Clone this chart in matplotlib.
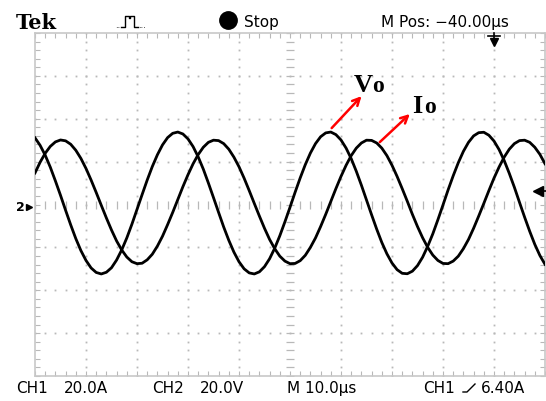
import numpy as np
import matplotlib.pyplot as plt
from matplotlib.lines import Line2D

W, H = 546, 401  # output size in pixels

# time base: 10 us/div, 10 divisions
t_us = list(range(0, 101))

# CH2 output voltage (V)
vo_V = [31.1, 27.6, 23.0, 17.4, 11.0, 4.3, -2.7, -9.5, -15.9, -21.5,
        -26.1, -29.6, -31.7, -32.4, -31.6, -29.5, -25.9, -21.2, -15.6, -9.2,
        -2.3, 4.6, 11.4, 17.7, 23.2, 27.8, 31.2, 33.2, 33.8, 32.9,
        30.6, 27.0, 22.2, 16.5, 10.0, 3.2, -3.7, -10.5, -16.7, -22.2,
        -26.7, -30.0, -31.9, -32.4, -31.4, -29.0, -25.3, -20.4, -14.6, -8.1,
        -1.3, 5.7, 12.4, 18.6, 24.0, 28.4, 31.6, 33.4, 33.8, 32.6,
        30.1, 26.3, 21.4, 15.5, 9.0, 2.1, -4.8, -11.5, -17.7, -23.0,
        -27.3, -30.4, -32.1, -32.3, -31.1, -28.5, -24.6, -19.5, -13.7, -7.1,
        -0.2, 6.8, 13.4, 19.5, 24.8, 29.0, 32.0, 33.5, 33.7, 32.3,
        29.6, 25.6, 20.5, 14.5, 8.0, 1.0, -5.9, -12.5, -18.6, -23.8,
        -27.9]

# CH1 output current (A)
io_A = [14.7, 19.7, 23.9, 27.1, 29.2, 30.1, 29.7, 28.1, 25.3, 21.5,
        16.8, 11.4, 5.6, -0.4, -6.3, -11.9, -17.0, -21.2, -24.5, -26.7,
        -27.6, -27.4, -25.8, -23.2, -19.4, -14.8, -9.4, -3.7, 2.3, 8.3,
        13.9, 19.0, 23.3, 26.7, 29.0, 30.0, 29.8, 28.4, 25.8, 22.1,
        17.6, 12.3, 6.5, 0.5, -5.4, -11.1, -16.3, -20.6, -24.1, -26.4,
        -27.6, -27.5, -26.2, -23.7, -20.0, -15.6, -10.3, -4.6, 1.4, 7.4,
        13.1, 18.3, 22.8, 26.3, 28.7, 30.0, 29.9, 28.7, 26.3, 22.8,
        18.3, 13.1, 7.4, 1.5, -4.6, -10.3, -15.5, -20.0, -23.6, -26.1,
        -27.5, -27.6, -26.4, -24.1, -20.6, -16.3, -11.1, -5.4, 0.5, 6.5,
        12.3, 17.5, 22.1, 25.8, 28.4, 29.8, 30.0, 29.0, 26.7, 23.4,
        19.0]

trig_level = 6.4    # A
trig_time = 90.0    # us

header = ["Stop", "M Pos: \u221240.00\u00b5s"]
footer = ["CH1", "20.0A", "CH2", "20.0V", "M 10.0\u00b5s", "CH1", "6.40A"]


def fx(px):
    return px / W


def fy(py):
    return 1 - py / H


fig = plt.figure(figsize=(W / 100, H / 100), dpi=100)
fig.patch.set_facecolor('white')
ax = fig.add_axes([fx(35), fy(376), 510 / W, 343 / H])
ax.set_xlim(0, 100)
ax.set_ylim(-80, 80)

grid_col = '#b8b8b8'
for s in ax.spines.values():
    s.set_color('#c8c8c8')
    s.set_linewidth(1.2)
ax.set_xticks(np.arange(0, 101, 2))
ax.set_yticks(np.arange(-80, 81, 4))
ax.tick_params(direction='in', length=3.5, width=0.8, color=grid_col,
               top=True, right=True, labelbottom=False, labelleft=False)

# dotted graticule
ys = np.arange(-80, 81, 4)
xs = np.arange(0, 101, 2)
for gx in range(10, 100, 10):
    if gx == 50:
        ax.plot([gx] * len(ys), ys, '_', ms=6, mew=0.9, color=grid_col)
    else:
        ax.plot([gx] * len(ys), ys, 's', ms=1.3, mew=0, color=grid_col)
for gy in range(-60, 61, 20):
    if gy == 0:
        ax.plot(xs, [gy] * len(xs), '|', ms=6, mew=0.9, color=grid_col)
    else:
        ax.plot(xs, [gy] * len(xs), 's', ms=1.3, mew=0, color=grid_col)

ax.plot(t_us, vo_V, color='black', lw=2.0, zorder=5)
ax.plot(t_us, io_A, color='black', lw=2.0, zorder=5)

# red pointers
ax.annotate('', xy=(64.4, 51.5), xytext=(57.8, 34.7),
            arrowprops=dict(arrowstyle='->', color='red', lw=1.8, mutation_scale=13))
ax.annotate('', xy=(73.9, 43.1), xytext=(67.2, 28.2),
            arrowprops=dict(arrowstyle='->', color='red', lw=1.8, mutation_scale=13))
serif = 'Liberation Serif'
fig.text(fx(354), fy(92), 'V', fontsize=19, fontweight='bold', family=serif, va='baseline')
fig.text(fx(372), fy(92), 'o', fontsize=17, fontweight='bold', family=serif, va='baseline')
fig.text(fx(412), fy(113), 'I', fontsize=19, fontweight='bold', family=serif, va='baseline')
fig.text(fx(424), fy(113), 'o', fontsize=17, fontweight='bold', family=serif, va='baseline')

# header
sans = 'DejaVu Sans'
fig.text(fx(16), fy(29), 'Tek', fontsize=15, fontweight='bold', family='DejaVu Serif',
         va='baseline')
pulse = [(121, 27), (125, 27), (125, 16), (129, 16), (129, 18), (130, 18), (130, 16),
         (134, 16), (134, 27), (138, 27)]
fig.add_artist(Line2D([fx(p[0]) for p in pulse], [fy(p[1]) for p in pulse],
                      color='black', lw=1.0))
fig.text(fx(115), fy(28), '..', fontsize=6, family=sans, va='baseline')
fig.text(fx(138), fy(28), '...', fontsize=6, family=sans, va='baseline')
fig.add_artist(Line2D([fx(228)], [fy(20)], marker='o', ms=12.5, color='black'))
fig.text(fx(244), fy(27), header[0], fontsize=11, family=sans, va='baseline')
fig.text(fx(381), fy(27), header[1], fontsize=11, family=sans, va='baseline')

# footer
fpos = [16, 64, 152, 200, 287, 423, 481]
for px, s in zip(fpos, footer):
    fig.text(fx(px), fy(393), s, fontsize=11, family=sans, va='baseline')
edge = [(463, 392), (467, 392), (475, 384)]
fig.add_artist(Line2D([fx(p[0]) for p in edge], [fy(p[1]) for p in edge],
                      color='black', lw=1.0))

# trigger position marker (top)
tx = fx(35 + trig_time * 5.1)
fig.add_artist(Line2D([tx - fx(6), tx + fx(6)], [fy(36), fy(36)], color='black', lw=1.2))
fig.add_artist(Line2D([tx, tx], [fy(33), fy(42)], color='black', lw=1.2))
fig.add_artist(Line2D([tx], [fy(42)], marker='v', ms=6, color='black'))

# trigger level marker (right)
ty = fy(376 - (trig_level + 80) * 343 / 160)
fig.add_artist(Line2D([fx(538), fx(546)], [ty, ty], color='black', lw=1.2))
fig.add_artist(Line2D([fx(538)], [ty], marker='<', ms=7, color='black'))

# ground marker (left)
gy0 = fy(207)
fig.text(fx(16), gy0, '2', fontsize=9, fontweight='bold', family=sans, va='center')
fig.add_artist(Line2D([fx(29)], [gy0], marker='>', ms=5, color='black'))

fig.savefig('out.png', dpi=100)
